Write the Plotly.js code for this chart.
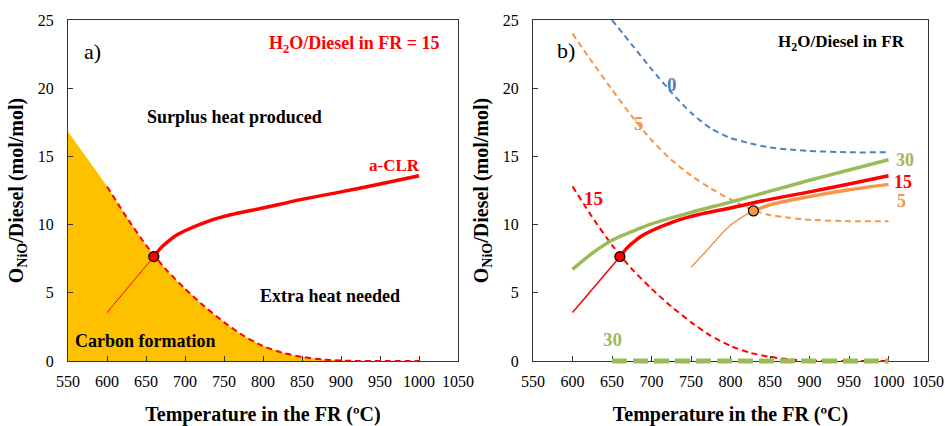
<!DOCTYPE html>
<html>
<head>
<meta charset="utf-8">
<script src="https://cdn.plot.ly/plotly-3.0.1.min.js"></script>
<style>html,body{margin:0;padding:0;background:#fff;}#chart{width:945px;height:426px;}</style>
</head>
<body>
<div id="chart"></div>
<script>
// ---- Data ----
// Carbon-formation boundary, H2O/Diesel = 15 (dashed red)
const T_boundary15 = [600, 625, 650, 675, 700, 725, 750, 775, 800, 825, 850, 875, 900, 925, 950, 1000];
const O_boundary15 = [12.8, 10.55, 8.5, 6.75, 5.3, 4.0, 2.85, 1.85, 1.1, 0.6, 0.3, 0.12, 0.03, 0, 0, 0];
// Carbon formation region extends to 550 °C
const T_fillStart = 550;
const O_fillStart = 16.8;

// a-CLR thermoneutral line, H2O/Diesel = 15
const T_thin15 = [600, 660];
const O_thin15 = [3.55, 7.65];
const T_aclr15 = [660, 670, 680, 690, 700, 725, 750, 800, 850, 900, 950, 1000];
const O_aclr15 = [7.65, 8.35, 8.85, 9.25, 9.55, 10.15, 10.6, 11.22, 11.85, 12.4, 12.98, 13.58];

// H2O/Diesel = 30
const T_aclr30 = [600, 625, 650, 665, 680, 700, 750, 800, 850, 900, 950, 1000];
const O_aclr30 = [6.72, 7.9, 8.85, 9.25, 9.6, 10.05, 10.9, 11.65, 12.45, 13.25, 14.0, 14.75];
const T_boundary30 = [650, 1000];
const O_boundary30 = [0, 0];

// H2O/Diesel = 5
const T_thin5 = [750, 770, 795, 812, 829];
const O_thin5 = [6.87, 8.1, 9.7, 10.45, 11.0];
const T_aclr5 = [829, 850, 900, 950, 1000];
const O_aclr5 = [11.0, 11.45, 12.05, 12.55, 12.95];
const T_boundary5 = [600, 625, 650, 675, 700, 725, 750, 775, 800, 829, 850, 875, 900, 950, 1000];
const O_boundary5 = [24.0, 21.9, 19.9, 17.95, 16.2, 14.75, 13.6, 12.65, 11.85, 11.05, 10.7, 10.5, 10.35, 10.25, 10.25];

// H2O/Diesel = 0
const T_boundary0 = [650, 675, 700, 725, 750, 775, 800, 825, 850, 875, 900, 950, 1000];
const O_boundary0 = [25.0, 23.2, 21.4, 19.7, 18.2, 17.05, 16.35, 15.95, 15.65, 15.5, 15.4, 15.3, 15.3];

// Intersection points
const T_point15 = [660], O_point15 = [7.65];
const T_point5 = [829], O_point5 = [11.0];

const xTicks = [550, 600, 650, 700, 750, 800, 850, 900, 950, 1000, 1050];
const yTicks = [0, 5, 10, 15, 20, 25];

// ---- Styles / geometry ----
const RED = '#FF0000', GREEN = '#9BBB59', ORANGE = '#F79646', BLUE = '#4F81BD', GOLD = '#FFC000';
const FONT = 'Liberation Serif, Times New Roman, serif';
const DASH = '6px,4px';
const H = 426, MT = 20, MB = 60, EXTRA = 5;           // EXTRA px of drawing room below the y=0 axis line
const plotH = H - MT - MB;
const yDomStart = EXTRA / plotH;
const pxPerUnit = (plotH - EXTRA) / 25;
const yRangeExt = [-EXTRA / pxPerUnit, 25];
const domA = [0, 0.4535], domB = [0.5407, 1];

// Lines are drawn on hidden axes that share the visible axes' scale but extend a few
// pixels below y = 0, so lines lying on the x axis are not cut in half.
const traces = [
  // ---- Panel a ----
  {x: [T_fillStart].concat(T_boundary15), y: [O_fillStart].concat(O_boundary15), xaxis: 'x', yaxis: 'y',
   mode: 'lines', fill: 'tozeroy', fillcolor: GOLD, line: {color: GOLD, width: 0, shape: 'spline', smoothing: 0.6}, hoverinfo: 'skip'},
  {x: T_boundary15, y: O_boundary15, xaxis: 'x3', yaxis: 'y3', mode: 'lines',
   line: {color: RED, width: 2, dash: DASH, shape: 'spline', smoothing: 0.6}},
  {x: T_thin15, y: O_thin15, xaxis: 'x3', yaxis: 'y3', mode: 'lines', line: {color: RED, width: 1}},
  {x: T_aclr15, y: O_aclr15, xaxis: 'x3', yaxis: 'y3', mode: 'lines', line: {color: RED, width: 3.5, shape: 'spline', smoothing: 0.8}},
  {x: T_point15, y: O_point15, xaxis: 'x3', yaxis: 'y3', mode: 'markers',
   marker: {color: RED, size: 10, line: {color: '#000', width: 1.2}}},

  // ---- Panel b ----
  {x: T_boundary0, y: O_boundary0, xaxis: 'x4', yaxis: 'y4', mode: 'lines',
   line: {color: BLUE, width: 2, dash: DASH, shape: 'spline', smoothing: 0.6}},
  {x: T_boundary5, y: O_boundary5, xaxis: 'x4', yaxis: 'y4', mode: 'lines',
   line: {color: ORANGE, width: 2, dash: DASH, shape: 'spline', smoothing: 0.6}},
  {x: T_boundary15, y: O_boundary15, xaxis: 'x4', yaxis: 'y4', mode: 'lines',
   line: {color: RED, width: 2, dash: DASH, shape: 'spline', smoothing: 0.6}},
  {x: T_boundary30, y: O_boundary30, xaxis: 'x4', yaxis: 'y4', mode: 'lines',
   line: {color: GREEN, width: 5, dash: '15px,6px'}},
  {x: T_aclr30, y: O_aclr30, xaxis: 'x4', yaxis: 'y4', mode: 'lines', line: {color: GREEN, width: 3.5, shape: 'spline', smoothing: 0.8}},
  {x: T_thin15, y: O_thin15, xaxis: 'x4', yaxis: 'y4', mode: 'lines', line: {color: RED, width: 1.5}},
  {x: T_aclr15, y: O_aclr15, xaxis: 'x4', yaxis: 'y4', mode: 'lines', line: {color: RED, width: 3.5, shape: 'spline', smoothing: 0.8}},
  {x: T_thin5, y: O_thin5, xaxis: 'x4', yaxis: 'y4', mode: 'lines', line: {color: ORANGE, width: 1.5, shape: 'spline', smoothing: 0.8}},
  {x: T_aclr5, y: O_aclr5, xaxis: 'x4', yaxis: 'y4', mode: 'lines', line: {color: ORANGE, width: 3.5, shape: 'spline', smoothing: 0.8}},
  {x: T_point15, y: O_point15, xaxis: 'x4', yaxis: 'y4', mode: 'markers',
   marker: {color: RED, size: 10, line: {color: '#000', width: 1.2}}},
  {x: T_point5, y: O_point5, xaxis: 'x4', yaxis: 'y4', mode: 'markers',
   marker: {color: ORANGE, size: 10, line: {color: '#000', width: 1.2}}}
];

function xAxis(domain, anchor) {
  return {
    domain: domain, anchor: anchor, range: [550, 1050], tickvals: xTicks,
    ticks: 'inside', ticklen: 5, tickcolor: '#333', showline: true, mirror: true, linecolor: '#333', linewidth: 1,
    showgrid: false, zeroline: false, tickfont: {family: FONT, size: 16, color: '#000'}, ticklabelstandoff: 6,
    title: {text: 'Temperature in the FR (ºC)', font: {family: FONT, size: 20, color: '#000', weight: 'bold'}, standoff: 18}
  };
}
function yAxis(anchor) {
  return {
    domain: [yDomStart, 1], anchor: anchor, range: [0, 25], tickvals: yTicks,
    ticks: 'inside', ticklen: 5, tickcolor: '#333', showline: true, mirror: true, linecolor: '#333', linewidth: 1,
    showgrid: false, zeroline: false, tickfont: {family: FONT, size: 16, color: '#000'}, ticklabelstandoff: 10,
    title: {text: 'O<sub>NiO</sub>/Diesel (mol/mol)', font: {family: FONT, size: 20, color: '#000', weight: 'bold'}, standoff: 8}
  };
}
function hiddenX(domain, anchor) {
  return {domain: domain, anchor: anchor, range: [550, 1050], visible: false, fixedrange: true};
}
function hiddenY(anchor) {
  return {domain: [0, 1], anchor: anchor, range: yRangeExt, visible: false, fixedrange: true};
}

function ann(xref, yref, x, y, text, color, size, bold, xanchor) {
  return {xref: xref, yref: yref, x: x, y: y, text: text, showarrow: false,
          xanchor: xanchor || 'center', yanchor: 'middle',
          font: {family: FONT, size: size, color: color, weight: bold ? 'bold' : 'normal'}};
}

const annotations = [
  ann('x', 'y', 568, 22.7, 'a)', '#000', 22, false, 'left'),
  ann('x', 'y', 1029, 23.2, 'H<sub>2</sub>O/Diesel in FR = 15', RED, 18, true, 'right'),
  ann('x', 'y', 763, 17.9, 'Surplus heat produced', '#000', 18, true),
  ann('x', 'y', 969, 14.3, 'a-CLR', RED, 17, true),
  ann('x', 'y', 886, 4.8, 'Extra heat needed', '#000', 18, true),
  ann('x', 'y', 557, 1.45, 'Carbon formation', '#000', 18, true, 'left'),

  ann('x2', 'y2', 578, 22.75, 'b)', '#000', 22, false, 'left'),
  ann('x2', 'y2', 1024, 23.3, 'H<sub>2</sub>O/Diesel in FR', '#000', 17, true, 'right'),
  ann('x2', 'y2', 726, 20.3, '0', BLUE, 19, true),
  ann('x2', 'y2', 684, 17.4, '5', ORANGE, 19, true),
  ann('x2', 'y2', 1021, 14.7, '30', GREEN, 18, true),
  ann('x2', 'y2', 1018, 13.15, '15', RED, 18, true),
  ann('x2', 'y2', 1016, 11.75, '5', ORANGE, 18, true),
  ann('x2', 'y2', 627, 11.9, '15', RED, 19, true),
  ann('x2', 'y2', 651, 1.6, '30', GREEN, 19, true)
];

const layout = {
  width: 945, height: H,
  margin: {l: 68, r: 17, t: MT, b: MB},
  paper_bgcolor: '#fff', plot_bgcolor: 'rgba(0,0,0,0)',
  showlegend: false,
  font: {family: FONT, color: '#000'},
  xaxis: xAxis(domA, 'y'),
  yaxis: yAxis('x'),
  xaxis2: xAxis(domB, 'y2'),
  yaxis2: yAxis('x2'),
  xaxis3: hiddenX(domA, 'y3'),
  yaxis3: hiddenY('x3'),
  xaxis4: hiddenX(domB, 'y4'),
  yaxis4: hiddenY('x4'),
  annotations: annotations
};

Plotly.newPlot('chart', traces, layout, {staticPlot: true, displayModeBar: false});
</script>
</body>
</html>
